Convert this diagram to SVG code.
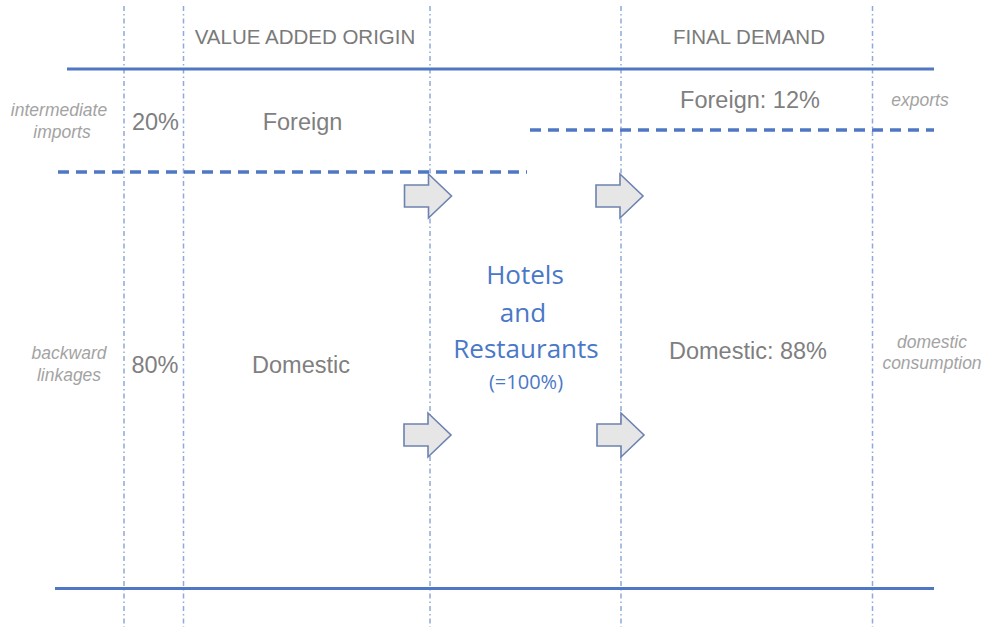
<svg xmlns="http://www.w3.org/2000/svg" width="982" height="627" viewBox="0 0 982 627">
<style>
.vline{stroke:#8fa9d9;stroke-width:1.5;stroke-dasharray:5 3 1.5 3;fill:none}
.solid{stroke:#4f77c4;stroke-width:3;fill:none}
.dash{stroke:#4f77c4;stroke-width:3.5;stroke-dasharray:11 7;fill:none}
.arrow{fill:#e6e6e6;stroke:#6d82b0;stroke-width:1.6;stroke-linejoin:miter}
.hdr{font-family:"Liberation Sans",Arial,sans-serif;font-size:20.5px;fill:#7a7a7a;text-anchor:middle}
.lbl{font-family:"Liberation Sans",Arial,sans-serif;font-size:23.5px;fill:#7f7f7f;text-anchor:middle}
.side{font-family:"Liberation Sans",Arial,sans-serif;font-size:17.5px;font-style:italic;fill:#a3a3a3;text-anchor:middle}
.hr{font-family:"Open Sans","Liberation Sans",sans-serif;font-size:26px;fill:#4a78c8;text-anchor:middle}
</style>
<defs>
<path id="arr" d="M0,-11 L24,-11 L24,-22 L47,0 L24,22 L24,11 L0,11 Z"/>
</defs>
<g id="grid">
<line class="vline" x1="124" y1="6" x2="124" y2="627"/>
<line class="vline" x1="183.5" y1="6" x2="183.5" y2="627"/>
<line class="vline" x1="430" y1="6" x2="430" y2="627"/>
<line class="vline" x1="621" y1="6" x2="621" y2="627"/>
<line class="vline" x1="872.5" y1="6" x2="872.5" y2="627"/>
</g>
<g id="connectors">
<line class="solid" x1="67" y1="69" x2="934" y2="69"/>
<line class="solid" x1="55" y1="588.5" x2="934" y2="588.5"/>
<line class="dash" x1="58" y1="172" x2="527" y2="172"/>
<line class="dash" x1="530" y1="130" x2="934" y2="130"/>
<use href="#arr" class="arrow" x="404.5" y="196"/>
<use href="#arr" class="arrow" x="596" y="196"/>
<use href="#arr" class="arrow" x="404" y="435"/>
<use href="#arr" class="arrow" x="597" y="435"/>
</g>
<g id="header-va"><text class="hdr" x="305" y="44">VALUE ADDED ORIGIN</text></g>
<g id="header-fd"><text class="hdr" x="749" y="44">FINAL DEMAND</text></g>
<g id="intermediate-imports"><text class="side"><tspan x="59" y="116">intermediate</tspan><tspan x="62" y="138">imports</tspan></text></g>
<g id="pct20"><text class="lbl" x="155.5" y="130">20%</text></g>
<g id="foreign-va"><text class="lbl" x="302.5" y="130">Foreign</text></g>
<g id="foreign-fd"><text class="lbl" x="750" y="108">Foreign: 12%</text></g>
<g id="exports"><text class="side" x="920" y="106">exports</text></g>
<g id="backward-linkages"><text class="side"><tspan x="69" y="359">backward</tspan><tspan x="69" y="381">linkages</tspan></text></g>
<g id="pct80"><text class="lbl" x="155" y="373">80%</text></g>
<g id="domestic-va"><text class="lbl" x="301" y="373">Domestic</text></g>
<g id="hotels"><text class="hr"><tspan x="525" y="284">Hotels</tspan><tspan x="523" y="322">and</tspan><tspan x="526" y="358">Restaurants</tspan><tspan x="526" y="389" style="font-size:20px">(=100%)</tspan></text></g>
<g id="domestic-fd"><text class="lbl" x="748" y="359">Domestic: 88%</text></g>
<g id="domestic-consumption"><text class="side"><tspan x="932" y="348">domestic</tspan><tspan x="932" y="369">consumption</tspan></text></g>
</svg>
